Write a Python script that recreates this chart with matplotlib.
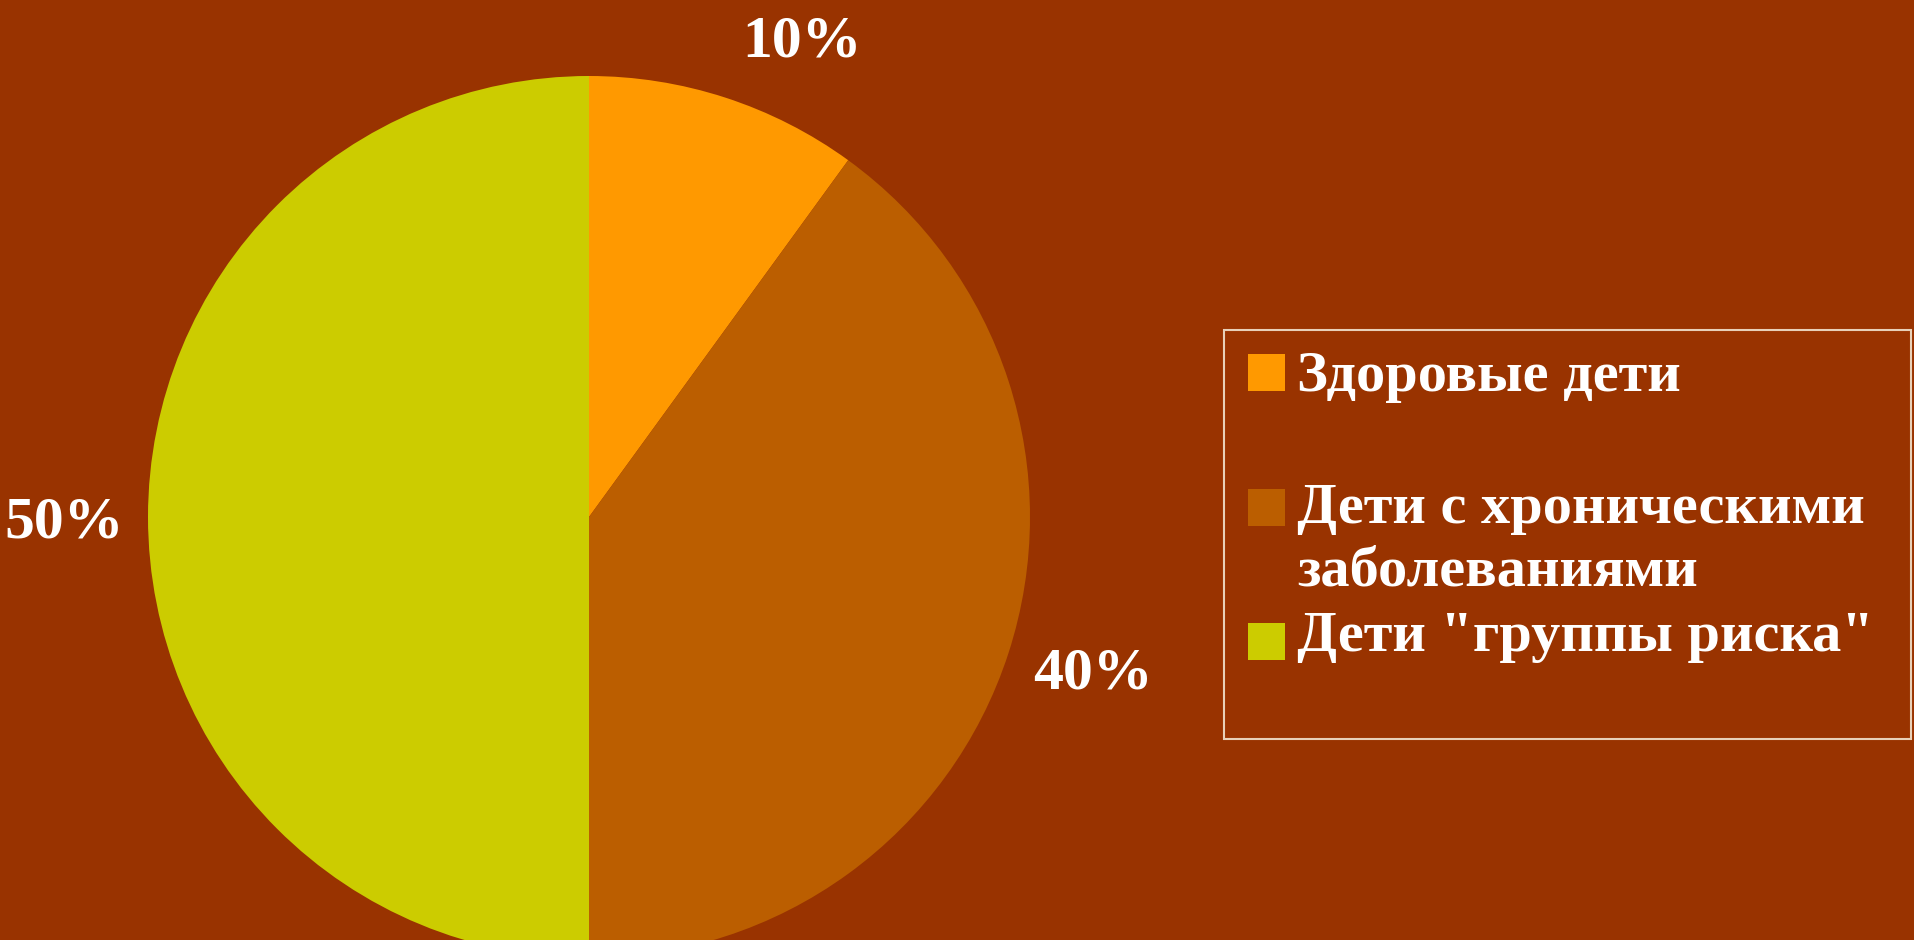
"""
Структура здоровья детей — круговая диаграмма
"""
import matplotlib.pyplot as plt
import matplotlib
from matplotlib.patches import Rectangle

matplotlib.rcParams['font.family'] = ['Liberation Serif', 'DejaVu Serif']
matplotlib.rcParams['font.weight'] = 'bold'

# ============================================================
# 1. Данные
# ============================================================
categories = ['Здоровые дети', 'Дети с хроническими\nзаболеваниями', 'Дети "группы риска"']
values = [10, 40, 50]
colors = ['#FF9900', '#BB5E00', '#CCCC00']
BG = '#993300'

# позиции подписей процентов (в единицах радиуса)
label_pos = [(0.483, 1.075), (1.143, -0.358), (-1.19, -0.014)]

W, H = 1915, 940

def fx(x):
    return x / W

def fy(y):
    return 1 - y / H

# ============================================================
# 2. График
# ============================================================
fig = plt.figure(figsize=(W / 100, H / 100), dpi=100, facecolor=BG)

# круг: центр (589, 517) px, радиус 441 px
cx, cy, r = 589, 517, 441
ax = fig.add_axes([fx(cx - r), fy(cy + r), 2 * r / W, 2 * r / H])
ax.set_facecolor(BG)
wedges, _ = ax.pie(values, colors=colors, startangle=90, counterclock=False,
                   radius=1, wedgeprops=dict(linewidth=0))
ax.set_xlim(-1, 1)
ax.set_ylim(-1, 1)
ax.set_aspect('equal')
ax.axis('off')

for v, (x, y) in zip(values, label_pos):
    ax.text(x, y, f'{v}%', color='white', fontsize=43, fontweight='bold',
            ha='center', va='center', clip_on=False)

# --- легенда (рамка + квадраты + текст) ---
fig.patches.append(Rectangle((fx(1224), fy(739)), (1911 - 1224) / W, (739 - 330) / H,
                             transform=fig.transFigure, facecolor='none',
                             edgecolor='#E8D0B8', linewidth=1.5))

marker_top = [354, 489, 623]
text_base = [391, 523, 651]
for cat, col, mt, tb in zip(categories, colors, marker_top, text_base):
    fig.patches.append(Rectangle((fx(1248), fy(mt + 37)), 37 / W, 37 / H,
                                 transform=fig.transFigure, facecolor=col,
                                 edgecolor='none'))
    for i, line in enumerate(cat.split('\n')):
        fig.text(fx(1297), fy(tb + i * 63), line, color='white', fontsize=42,
                 fontweight='bold', ha='left', va='baseline')

out = "out.png"
plt.savefig(out, dpi=100, facecolor=BG)
plt.close()
